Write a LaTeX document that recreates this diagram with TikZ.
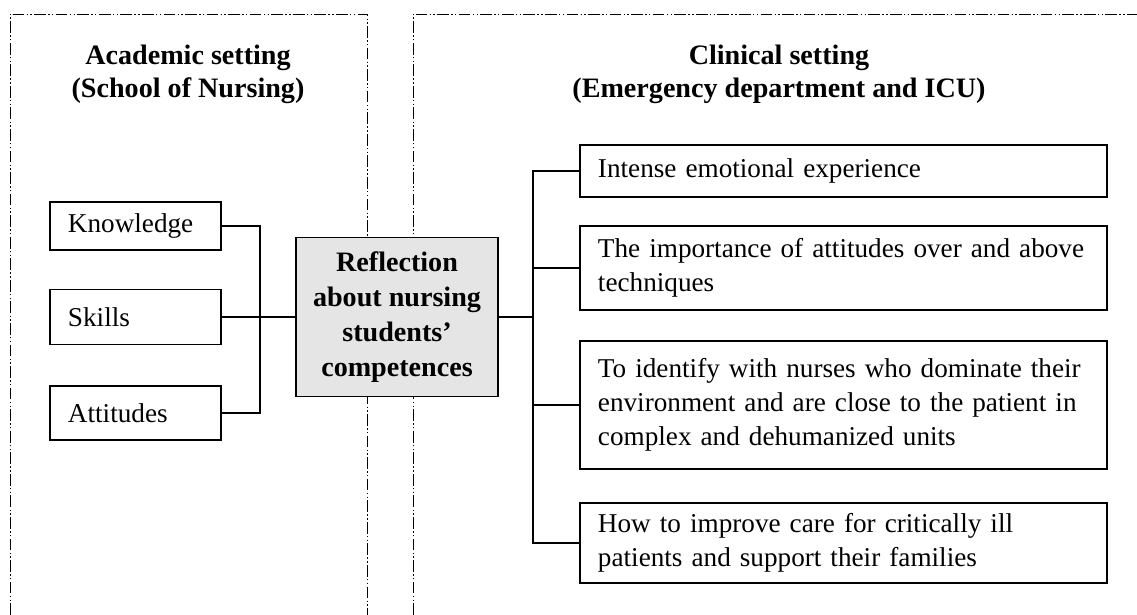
\documentclass[tikz,border=0pt]{standalone}
\usepackage{fontspec}
\setmainfont{Liberation Serif}
\tikzset{
  frameline/.style={line width=0.4pt, dash pattern=on 5pt off 1pt on 0.6pt off 1pt on 0.6pt off 1pt},
  leftbox/.style={draw, line width=0.6pt, minimum width=2.565cm, text width=2.025cm, inner xsep=0.27cm, align=left},
  rightbox/.style={draw, line width=0.6pt, minimum width=7.905cm, text width=7.365cm, inner xsep=0.27cm, align=left},
  centerbox/.style={draw, line width=0.6pt, fill=gray!20, minimum width=3.03cm, minimum height=2.385cm, align=center,
    font=\fontsize{12}{15}\selectfont\bfseries},
  title/.style={align=center, font=\fontsize{12}{14}\selectfont\bfseries}
}
\begin{document}
\begin{tikzpicture}[x=0.015cm, y=-0.015cm, font=\fontsize{11.6}{14.6}\selectfont, line width=0.5pt]
        \useasboundingbox (0,0) rectangle (1137,615);
        \draw[frameline] (10,615) -- (10,14) -- (367,14) -- (367,615);
        \draw[frameline] (413,615) -- (413,14) -- (1137,14);

        \node[title] (academic) at (188,74) {Academic setting\\(School of Nursing)};
        \node[title] (clinical) at (779,74) {Clinical setting\\(Emergency department and ICU)};

        \node[leftbox, minimum height=0.72cm] (know) at (135.5,226) {Knowledge};
        \node[leftbox, minimum height=0.825cm] (skills) at (135.5,317) {Skills};
        \node[leftbox, minimum height=0.81cm] (att) at (135.5,413) {Attitudes};

        \node[centerbox] (refl) at (397,317) {Reflection\\about nursing\\students’\\competences};

        \node[rightbox, minimum height=0.78cm] (emo) at (843.5,171) {Intense emotional experience};
        \node[rightbox, minimum height=1.26cm] (attit) at (843.5,268) {\mbox{The importance of attitudes over and above}\\techniques};
        \node[rightbox, minimum height=1.92cm] (nurses) at (843.5,405) {\mbox{To identify with nurses who dominate their}\\environment and are close to the patient in\\complex and dehumanized units};
        \node[rightbox, minimum height=1.2cm] (care) at (843.5,543) {How to improve care for critically ill\\patients and support their families};

        \coordinate (lbus) at (260,317);
        \coordinate (rbus) at (533,317);
        \draw (know.east) -| (lbus);
        \draw (att.east) -| (lbus);
        \draw (skills.east) -- (refl.west);

        \draw (refl.east) -- (rbus);
        \draw (rbus) |- (emo.west);
        \draw (rbus) |- (attit.west);
        \draw (rbus) |- (nurses.west);
        \draw (rbus) |- (care.west);
    \end{tikzpicture}
\end{document}
